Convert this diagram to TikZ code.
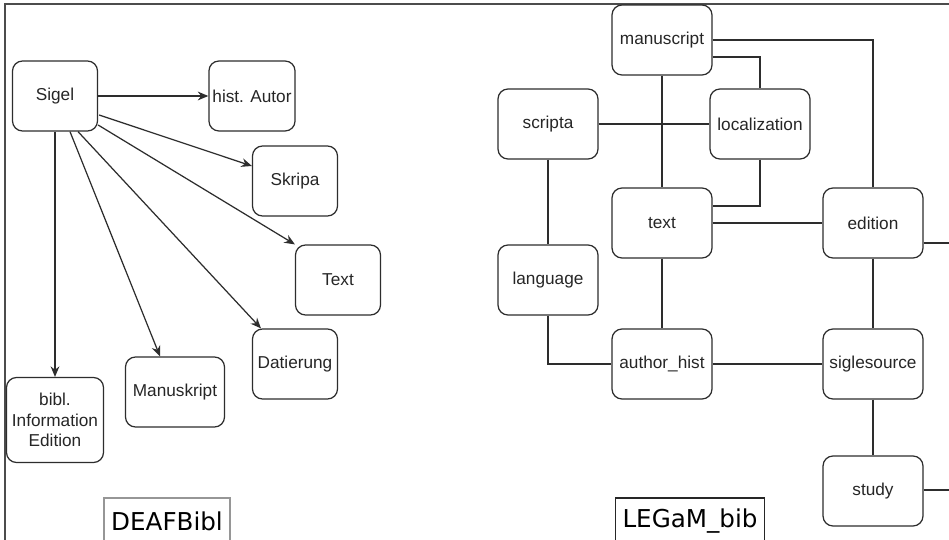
\documentclass[tikz,border=0pt]{standalone}
\usepackage{fontspec}
\setmainfont{Liberation Sans}
\newfontfamily\tagfont{DejaVu Sans}
\usepackage{tikz}
\usetikzlibrary{arrows.meta, positioning, calc}
\definecolor{linegray}{RGB}{45,45,45}
\definecolor{tagborder}{RGB}{150,150,150}
\tikzset{
    entity/.style={rectangle, draw=linegray, rounded corners=0.2cm, line width=0.7pt,
                   text=black!85, align=center, inner sep=2pt,
                   minimum width=1.7cm, minimum height=1.4cm,
                   font=\fontsize{9.8}{11.5}\selectfont},
    table/.style={entity, minimum width=2cm},
    arrow/.style={-{Stealth[length=6pt, width=5pt]}, line width=0.7pt, color=linegray},
    link/.style={line width=0.7pt, color=linegray},
    tag/.style={rectangle, draw=#1, line width=1pt, inner xsep=4pt,
                minimum height=0.92cm, font=\tagfont\fontsize{14}{16}\selectfont}
}
\begin{document}
\begin{tikzpicture}[x=0.02cm, y=-0.02cm]
    \useasboundingbox (0,0) rectangle (949,540);
    \clip (0,0) rectangle (949,540);
    \fill[white] (0,0) rectangle (949,540);
    \draw[link, color=black!70] (949,4) -- (5,4) -- (5,545);

    % DEAFBibl
    \node[entity] (sigel) at (55,96) {Sigel};
    \node[entity] (autor) at (252,96) {hist. Autor};
    \node[entity] (skripa) at (295,181) {Skripa};
    \node[entity] (text) at (338,280) {Text};
    \node[entity] (datierung) at (295,364) {Datierung};
    \node[entity, minimum width=1.98cm] (manuskript) at (175,392) {Manuskript};
    \node[entity, minimum width=1.94cm, minimum height=1.7cm] (bibl) at (55,420) {bibl.\\Information\\Edition};
    \node[tag=tagborder] (deaf) at (167,521) {DEAFBibl};

    \draw[arrow] (sigel) -- (autor);
    \draw[arrow] ($(sigel.east)+(1,19)$) -- ($(skripa.west)+(0,-15)$);
    \draw[arrow] ($(sigel.east)+(0,29)$) -- (text.north west);
    \draw[arrow] ($(sigel.south)+(23,0)$) -- ($(datierung.north)+(-34,0)$);
    \draw[arrow] ($(sigel.south)+(15,0)$) -- ($(manuskript.north)+(-15,0)$);
    \draw[arrow] (sigel) -- (bibl);

    % LEGaM_bib
    \node[table] (manuscript) at (662,40) {manuscript};
    \node[table] (scripta) at (548,124) {scripta};
    \node[table] (localization) at (760,124) {localization};
    \node[table] (textL) at (662,223) {text};
    \node[table] (edition) at (873,223) {edition};
    \node[table] (language) at (548,280) {language};
    \node[table] (author) at (662,364) {author\_hist};
    \node[table] (siglesource) at (873,364) {siglesource};
    \node[table] (study) at (873,491) {study};
    \node[tag=black!85] (legam) at (690,521) {LEGaM\_bib};
    \coordinate (edgeA) at (951,243);
    \coordinate (edgeB) at (951,490);

    \draw[link] (manuscript.east) -| (edition.north);
    \draw[link] ($(manuscript.east)+(0,17)$) -| (localization.north);
    \draw[link] (scripta) -- (localization);
    \draw[link] (manuscript) -- (textL);
    \draw[link] (localization.south) |- ($(textL.east)+(0,-17)$);
    \draw[link] (textL) -- (edition);
    \draw[link] (scripta) -- (language);
    \draw[link] (textL) -- (author);
    \draw[link] (language.south) |- (author.west);
    \draw[link] (author) -- (siglesource);
    \draw[link] (edition) -- (siglesource);
    \draw[link] (siglesource) -- (study);
    \draw[link] ($(edition.east)+(0,20)$) -- (edgeA);
    \draw[link] ($(study.east)+(0,-1)$) -- (edgeB);
\end{tikzpicture}
\end{document}
